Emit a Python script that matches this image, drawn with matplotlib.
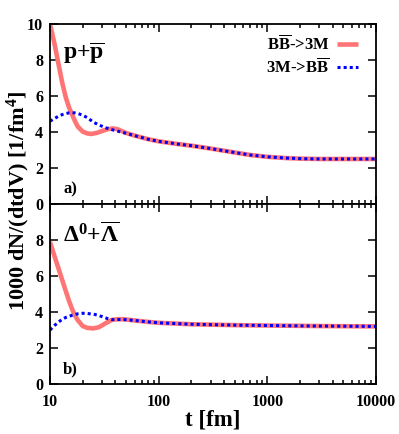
import matplotlib
matplotlib.use("Agg")
import matplotlib.pyplot as plt

plt.rcParams['font.family'] = ['Liberation Serif', 'DejaVu Serif']
plt.rcParams['font.weight'] = 'bold'
plt.rcParams['mathtext.fontset'] = 'custom'
plt.rcParams['mathtext.rm'] = 'Liberation Serif:bold'
plt.rcParams['mathtext.bf'] = 'Liberation Serif:bold'
plt.rcParams['mathtext.it'] = 'Liberation Serif:bold'

# panel a) p + pbar
t_a_red = [10, 11, 12, 13, 14, 15, 16, 17, 18, 20, 22, 24, 27, 30, 34, 38, 42, 50,
           60, 80, 100, 150, 200, 300, 500, 700, 1000, 1500, 2000, 3000, 5000, 10000]
y_a_red = [10.0, 8.9, 7.75, 6.7, 5.9, 5.35, 4.95, 4.6, 4.3, 4.02, 3.92, 3.89, 3.95, 4.05,
           4.16, 4.2, 4.15, 3.95, 3.8, 3.6, 3.48, 3.33, 3.24, 3.08, 2.86, 2.72, 2.62,
           2.55, 2.52, 2.5, 2.5, 2.5]
t_a_blue = [10, 11, 12, 13, 14, 15, 16, 17, 18, 20, 22, 25, 28, 32, 36, 40, 50,
            60, 80, 100, 150, 200, 300, 500, 700, 1000, 1500, 2000, 3000, 5000, 10000]
y_a_blue = [4.6, 4.75, 4.88, 4.97, 5.03, 5.06, 5.07, 5.06, 5.03, 4.93, 4.8, 4.55, 4.4,
            4.25, 4.15, 4.08, 3.93, 3.8, 3.6, 3.48, 3.33, 3.24, 3.08, 2.86, 2.72, 2.62,
            2.55, 2.52, 2.5, 2.5, 2.5]

# panel b) Delta0 + Lambdabar
t_b_red = [10, 11, 12, 13, 14, 15, 16, 17, 18, 20, 22, 25, 28, 30, 33, 37, 42, 48,
           60, 80, 100, 200, 500, 1000, 3000, 10000]
y_b_red = [7.9, 7.1, 6.4, 5.75, 5.15, 4.6, 4.15, 3.8, 3.55, 3.22, 3.12, 3.09, 3.15,
           3.25, 3.4, 3.56, 3.6, 3.6, 3.53, 3.45, 3.4, 3.32, 3.27, 3.25, 3.22, 3.2]
t_b_blue = [10, 11, 12, 13, 14, 16, 18, 20, 22, 26, 30, 34, 37, 42, 48,
            60, 80, 100, 200, 500, 1000, 3000, 10000]
y_b_blue = [3.0, 3.25, 3.45, 3.6, 3.7, 3.82, 3.9, 3.93, 3.92, 3.86, 3.75, 3.63, 3.58,
            3.58, 3.58, 3.53, 3.45, 3.4, 3.32, 3.27, 3.25, 3.22, 3.2]

panel_titles = [r'p+$\overline{\mathrm{p}}$', r'Δ$^{\mathrm{0}}$+$\overline{\Lambda}$']
panel_tags = ['a)', 'b)']
legend_labels = [r'B$\overline{\mathrm{B}}$->3M', r'3M->B$\overline{\mathrm{B}}$']
x_ticks = [10, 100, 1000, 10000]

red = '#ff7575'
blue = '#0000ff'

fig = plt.figure(figsize=(3.99, 4.34), dpi=100)
ax_a = fig.add_axes([0.1253, 0.53, 0.817, 0.4147])
ax_b = fig.add_axes([0.1253, 0.1152, 0.817, 0.4147])

data = [(ax_a, t_a_red, y_a_red, t_a_blue, y_a_blue),
        (ax_b, t_b_red, y_b_red, t_b_blue, y_b_blue)]

for i, (ax, tr, yr, tb, yb) in enumerate(data):
    ax.plot(tr, yr, color=red, lw=3.3, solid_capstyle='butt', label=legend_labels[0])
    ax.plot(tb, yb, color=blue, lw=2.2, dashes=(1, 1), label=legend_labels[1])
    ax.set_xscale('log')
    ax.set_xlim(10, 10000)
    ax.set_ylim(0, 10)
    ax.set_yticks([0, 2, 4, 6, 8, 10])
    ax.set_xticks(x_ticks)
    ax.tick_params(which='both', direction='in', top=True, right=True, width=1.1)
    ax.tick_params(which='major', length=6, labelsize=11.5)
    ax.tick_params(which='minor', length=3)
    ax.tick_params(axis='y', pad=5)
    ax.tick_params(axis='x', pad=7)
    for s in ax.spines.values():
        s.set_linewidth(1.3)
    ax.text(0.04, 0.805 if i == 0 else 0.79, panel_titles[i], transform=ax.transAxes,
            fontsize=17, va='baseline', ha='left')
    ax.text(0.04, 0.058, panel_tags[i], transform=ax.transAxes,
            fontsize=12, va='baseline', ha='left')

ax_a.set_xticklabels([])
ax_b.set_xticklabels([str(v) for v in x_ticks])
ax_b.set_yticklabels(['0', '2', '4', '6', '8', ''])

ax_a.legend(loc='upper right', bbox_to_anchor=(0.965, 0.975), frameon=False,
            markerfirst=False, fontsize=12, handlelength=1.25, handletextpad=0.45,
            labelspacing=0.2, borderaxespad=0)

fig.text(0.045, 0.536, r'1000 dN/(dtdV) [1/fm$^4$]', rotation=90,
         fontsize=16, ha='center', va='center')
fig.text(0.534, 0.032, 't [fm]', fontsize=16.5, ha='center', va='center')

fig.savefig('out.png', dpi=100)
